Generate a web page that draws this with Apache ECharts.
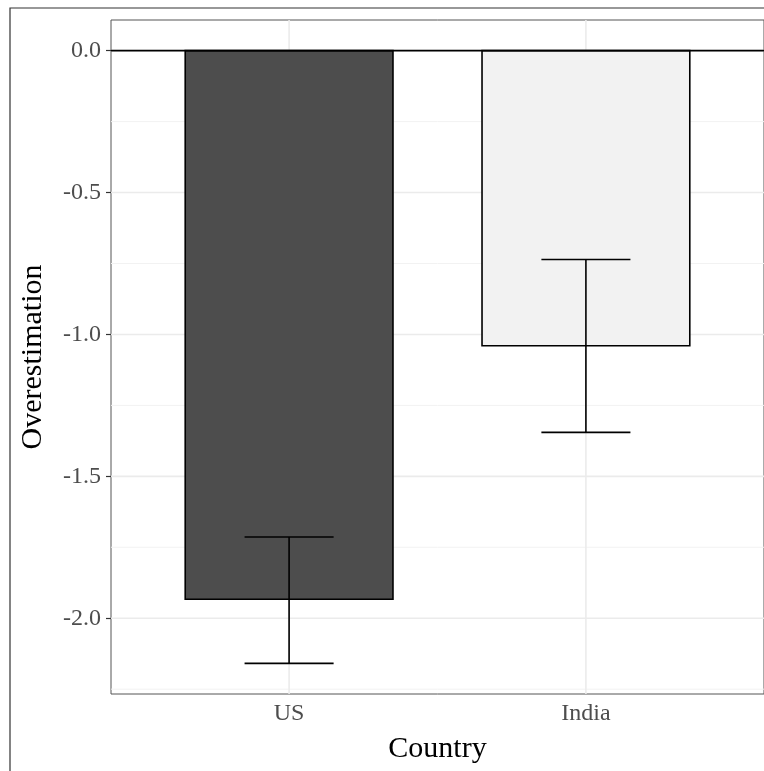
<!DOCTYPE html>
<html>
<head>
<meta charset="utf-8">
<script src="https://cdn.jsdelivr.net/npm/echarts@6/dist/echarts.min.js"></script>
<style>
  html, body { margin: 0; padding: 0; background: #fff; }
  #chart { width: 764px; height: 771px; }
</style>
</head>
<body>
<div id="chart"></div>
<script>
// Mean overestimation per country, with error-bar bounds
const countries = ['US', 'India'];
const overestimation = [-1.933, -1.040];
const errorLow = [-2.159, -1.345];
const errorHigh = [-1.714, -0.736];

// Axis breaks
const yMajorTicks = [-2.0, -1.5, -1.0, -0.5, 0.0];
const yMinorTicks = [-2.25, -1.75, -1.25, -0.75, -0.25];
const xTicks = [1, 2];

const fillColors = ['#4D4D4D', '#F2F2F2'];
const serif = 'Liberation Serif';

const chart = echarts.init(document.getElementById('chart'), null, { renderer: 'canvas' });

// Grid lines drawn across the panel through the axis scales
function gridLineSeries(name, axisDim, values, color, width) {
  return {
    name: name,
    type: 'custom',
    z: 1,
    silent: true,
    data: values.map(v => [v]),
    renderItem: function (params, api) {
      const v = api.value(0);
      const cs = params.coordSys;
      let x1, y1, x2, y2;
      if (axisDim === 'y') {
        const p = api.coord([1, v]);
        x1 = cs.x; x2 = cs.x + cs.width; y1 = y2 = p[1];
      } else {
        const p = api.coord([v, 0]);
        y1 = cs.y; y2 = cs.y + cs.height; x1 = x2 = p[0];
      }
      return {
        type: 'line',
        shape: { x1: x1, y1: y1, x2: x2, y2: y2 },
        style: { stroke: color, lineWidth: width }
      };
    }
  };
}

const barData = countries.map((c, i) => [i + 1, overestimation[i]]);
const errData = countries.map((c, i) => [i + 1, errorLow[i], errorHigh[i]]);

chart.setOption({
  animation: false,
  backgroundColor: '#fff',
  graphic: [{
    type: 'rect',
    shape: { x: 10, y: 8, width: 900, height: 900 },
    style: { fill: 'none', stroke: '#333', lineWidth: 1.2 },
    z: 0
  }],
  grid: {
    left: 111, top: 20, width: 656, height: 674,
    show: true, borderColor: '#555', borderWidth: 1, backgroundColor: '#fff'
  },
  xAxis: {
    type: 'value',
    min: 0.4, max: 2.6,
    name: 'Country',
    nameLocation: 'middle',
    nameGap: 40,
    nameTextStyle: { fontFamily: serif, fontSize: 30, color: '#000' },
    axisLine: { show: false },
    splitLine: { show: false },
    axisTick: { show: true, length: 5, customValues: xTicks, lineStyle: { color: '#333', width: 1.2 } },
    axisLabel: {
      customValues: xTicks,
      margin: 8,
      fontFamily: serif, fontSize: 24, color: '#4D4D4D',
      formatter: v => countries[Math.round(v) - 1] || ''
    }
  },
  yAxis: {
    type: 'value',
    min: -2.267, max: 0.108,
    name: 'Overestimation',
    nameLocation: 'middle',
    nameRotate: 90,
    nameGap: 63,
    nameTextStyle: { fontFamily: serif, fontSize: 30, color: '#000' },
    axisLine: { show: false },
    splitLine: { show: false },
    axisTick: { show: true, length: 5, customValues: yMajorTicks, lineStyle: { color: '#333', width: 1.2 } },
    axisLabel: {
      customValues: yMajorTicks,
      margin: 10,
      fontFamily: serif, fontSize: 24, color: '#4D4D4D',
      formatter: v => v.toFixed(1)
    }
  },
  series: [
    gridLineSeries('minorY', 'y', yMinorTicks, '#F2F2F2', 1),
    gridLineSeries('majorY', 'y', yMajorTicks, '#EBEBEB', 1.6),
    gridLineSeries('majorX', 'x', xTicks, '#EBEBEB', 1.6),
    {
      name: 'bars',
      type: 'custom',
      z: 3,
      data: barData,
      renderItem: function (params, api) {
        const x = api.value(0), y = api.value(1);
        const left = api.coord([x - 0.35, 0]);
        const right = api.coord([x + 0.35, y]);
        return {
          type: 'rect',
          shape: { x: left[0], y: left[1], width: right[0] - left[0], height: right[1] - left[1] },
          style: { fill: fillColors[params.dataIndex], stroke: '#000', lineWidth: 1.6 }
        };
      }
    },
    {
      name: 'zero',
      type: 'custom',
      z: 4,
      silent: true,
      data: [[0]],
      renderItem: function (params, api) {
        const cs = params.coordSys;
        const p = api.coord([1, api.value(0)]);
        return {
          type: 'line',
          shape: { x1: cs.x, y1: p[1], x2: cs.x + cs.width, y2: p[1] },
          style: { stroke: '#000', lineWidth: 1.6 }
        };
      }
    },
    {
      name: 'errors',
      type: 'custom',
      z: 5,
      data: errData,
      renderItem: function (params, api) {
        const x = api.value(0), lo = api.value(1), hi = api.value(2);
        const pLo = api.coord([x, lo]);
        const pHi = api.coord([x, hi]);
        const wl = api.coord([x - 0.15, lo]);
        const wr = api.coord([x + 0.15, hi]);
        const st = { stroke: '#000', lineWidth: 1.6 };
        return {
          type: 'group',
          children: [
            { type: 'line', shape: { x1: pLo[0], y1: pLo[1], x2: pHi[0], y2: pHi[1] }, style: st },
            { type: 'line', shape: { x1: wl[0], y1: pLo[1], x2: wr[0], y2: pLo[1] }, style: st },
            { type: 'line', shape: { x1: wl[0], y1: pHi[1], x2: wr[0], y2: pHi[1] }, style: st }
          ]
        };
      }
    }
  ]
});
</script>
</body>
</html>
